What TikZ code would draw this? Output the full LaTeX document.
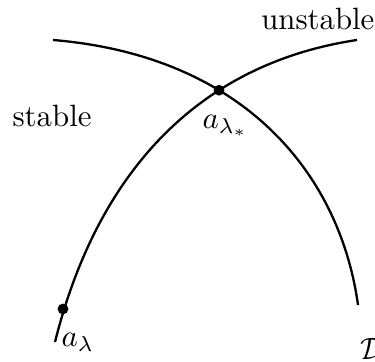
\documentclass[tikz,border=0pt]{standalone}
\usetikzlibrary{intersections}
\begin{document}
\begin{tikzpicture}[x=0.3247pt,y=-0.3247pt,
  curve/.style={line width=0.75pt},
  dotmark/.style={circle,fill=black,inner sep=0pt,minimum size=3.5pt},
  lbl/.style={inner sep=0pt}]
\useasboundingbox (0,0) rectangle (375,362);
\coordinate (dtop) at (53,40);
\coordinate (dbot) at (358,305);
\coordinate (btop) at (357,40);
\coordinate (bbot) at (55,342);
% curve D
\draw[curve,name path=cd] (dtop) .. controls (245,56) and (340,175) .. (dbot);
% curve through a_lambda
\draw[curve,name path=cb] (bbot) .. controls (97,174) and (197,64) .. (btop);
\path[name intersections={of=cd and cb,by=x}];
\node[dotmark] (astar) at (x) {};
\node[dotmark] (alam) at (63,309) {};
\node[lbl,anchor=base east] (unst) at (375,30) {unstable};
\node[lbl,anchor=base west] (st) at (12,127) {stable};
\node[lbl,anchor=base west] (lstar) at (202,129) {$a_{\lambda_*}$};
\node[lbl,anchor=base west] (llam) at (61,347) {$a_{\lambda}$};
\node[lbl,anchor=base west] (dlab) at (360,360) {$\mathcal{D}$};
\end{tikzpicture}
\end{document}
